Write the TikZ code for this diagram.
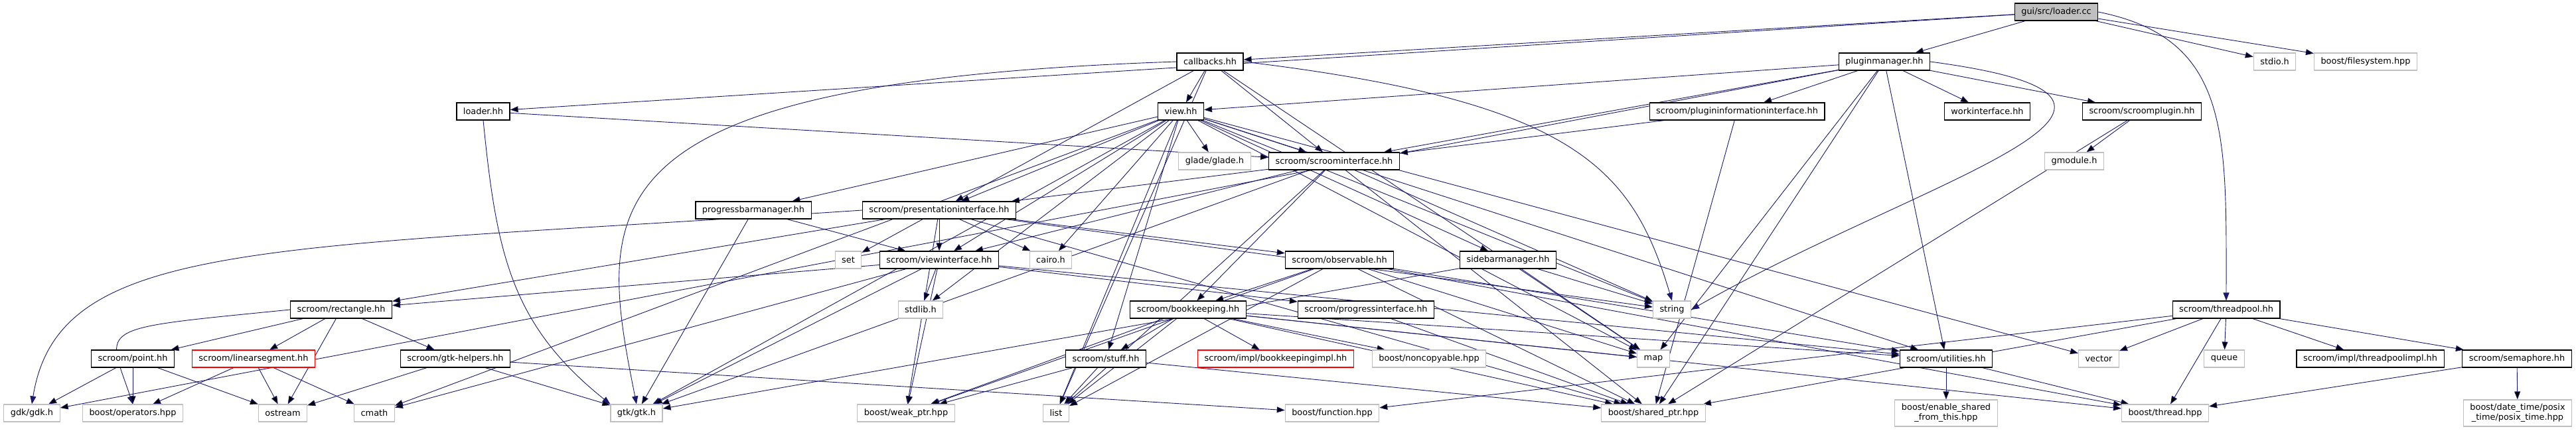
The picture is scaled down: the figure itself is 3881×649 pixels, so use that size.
\documentclass[tikz,border=0pt]{standalone}
\usepackage{fontspec}
\newfontfamily\dxfont{DejaVu Sans}
\usetikzlibrary{arrows.meta,backgrounds}
\definecolor{edgeblue}{HTML}{191970}
\definecolor{extgray} {HTML}{BFBFBF}
\definecolor{rootfill}{HTML}{BFBFBF}
\definecolor{cutred}  {HTML}{FF0000}
\begin{document}
\begin{tikzpicture}[x=1pt, y=-1pt,
  every node/.style={font=\dxfont\fontsize{12.9}{15}\selectfont, inner xsep=10pt, inner ysep=0pt,
                     minimum height=26pt, fill=white},
  hdr/.style={rectangle, draw=black, line width=1.1pt},
  ext/.style={rectangle, draw=extgray, line width=1.1pt},
  cut/.style={rectangle, draw=cutred, line width=1.1pt},
  root/.style={rectangle, draw=black, fill=rootfill, line width=1.1pt},
  dep/.style={draw=edgeblue, line width=0.9pt, -{Triangle[length=12pt,width=9pt]}}
]
\useasboundingbox (0,0) rectangle (3881,649);
% rows, top to bottom
\node[root] (lcc) at (3098,18) {gui/src/loader.cc};
\node[hdr] (cb)    at (1823,93)  {callbacks.hh};
\node[hdr] (pm)    at (2839,93)  {pluginmanager.hh};
\node[ext] (stdio) at (3427,93)  {stdio.h};
\node[ext] (fs)    at (3564,93)  {boost/filesystem.hpp};
\node[hdr] (lhh)   at (728,168)  {loader.hh};
\node[hdr] (view)  at (1779,168) {view.hh};
\node[hdr] (pii)   at (2617,168) {scroom/plugininformationinterface.hh};
\node[hdr] (work)  at (2994,168) {workinterface.hh};
\node[hdr] (splug) at (3227,168) {scroom/scroomplugin.hh};
\node[ext] (glade) at (1830,243) {glade/glade.h};
\node[hdr] (si)    at (2010,243) {scroom/scroominterface.hh};
\node[ext] (gmod)  at (3125,243) {gmodule.h};
\node[hdr] (pbm)   at (1135,317) {progressbarmanager.hh};
\node[hdr] (pi)    at (1415,317) {scroom/presentationinterface.hh};
\node[ext] (set)   at (1278,392) {set};
\node[hdr] (vi)    at (1415,392) {scroom/viewinterface.hh};
\node[ext] (cairo) at (1583,392) {cairo.h};
\node[hdr] (obs)   at (2018,392) {scroom/observable.hh};
\node[hdr] (sbm)   at (2272,392) {sidebarmanager.hh};
\node[hdr] (rect)  at (514,467)  {scroom/rectangle.hh};
\node[ext] (stdlib) at (1387,467) {stdlib.h};
\node[hdr] (bk)    at (1790,467) {scroom/bookkeeping.hh};
\node[hdr] (prog)  at (2058,467) {scroom/progressinterface.hh};
\node[ext] (str)   at (2519,467) {string};
\node[hdr] (tp)    at (3354,467) {scroom/threadpool.hh};
\node[hdr] (point) at (200,541)  {scroom/point.hh};
\node[cut] (linseg) at (382,541) {scroom/linearsegment.hh};
\node[hdr] (gtkh)  at (686,541)  {scroom/gtk-helpers.hh};
\node[hdr] (stuff) at (1666,541) {scroom/stuff.hh};
\node[cut] (bkimpl) at (1922,541) {scroom/impl/bookkeepingimpl.hh};
\node[ext] (noncopy) at (2153,541) {boost/noncopyable.hpp};
\node[ext] (map)   at (2491,541) {map};
\node[hdr] (util)  at (2932,541) {scroom/utilities.hh};
\node[ext] (vector) at (3162,541) {vector};
\node[ext] (queue) at (3351,541) {queue};
\node[hdr] (tpimpl) at (3571,541) {scroom/impl/threadpoolimpl.hh};
\node[hdr] (sema)  at (3792,541) {scroom/semaphore.hh};
\node[ext] (gdk)   at (48,623)   {gdk/gdk.h};
\node[ext] (ops)   at (200,623)  {boost/operators.hpp};
\node[ext] (ostream) at (426,623) {ostream};
\node[ext] (cmath) at (564,623)  {cmath};
\node[ext] (gtk)   at (959,623)  {gtk/gtk.h};
\node[ext] (weak)  at (1365,623) {boost/weak\_ptr.hpp};
\node[ext] (list)  at (1591,623) {list};
\node[ext] (func)  at (2007,623) {boost/function.hpp};
\node[ext] (sp)    at (2491,623) {boost/shared\_ptr.hpp};
\node[ext, align=center, minimum height=40pt] (esft) at (2932,623) {boost/enable\_shared\\\_from\_this.hpp};
\node[ext] (thread) at (3262,623) {boost/thread.hpp};
\node[ext, align=center, minimum height=40pt] (posix) at (3793,623) {boost/date\_time/posix\\\_time/posix\_time.hpp};
% include edges
\begin{scope}[on background layer]
\draw[dep] (lcc) edge (lhh) edge (cb) edge (pm) edge (stdio) edge (fs);
\draw[dep] (lcc.east) .. controls +(200,40) and +(0,-250) .. (tp.north);
\draw[dep] (lhh) edge (si);
\draw[dep] (lhh.south) .. controls +(20,200) and +(-150,-120) .. (gtk.north west);
\draw[dep] (cb) edge (view) edge (si) edge (pi) edge (list) edge (map);
\draw[dep] (cb.west) .. controls +(-900,30) and +(-60,-300) .. (gtk.north);
\draw[dep] (cb.east) .. controls +(500,60) and +(-60,-200) .. (str.north);
\draw[dep] (pm) edge (view) edge (si) edge (pii) edge (work) edge (splug) edge (util)
  edge (map) edge (sp) edge (gdk);
\draw[dep] (pm.east) .. controls +(450,60) and +(350,-200) .. (str.east);
\draw[dep] (pii) edge (si) edge (sp);
\draw[dep] (splug) edge (gmod) edge (sp);
\draw[dep] (view) edge (si) edge (glade) edge (cmath) edge (gtk) edge (list) edge (pbm)
  edge (pi) edge (vi) edge (stdlib) edge (stuff) edge (cairo) edge (sbm) edge (str)
  edge (map) edge (util) edge (vector);
\draw[dep] (pbm) edge (gtk) edge (vi);
\draw[dep] (si) edge (gtk) edge (pi) edge (vi) edge (bk) edge (list) edge (str) edge (sp);
\draw[dep] (pi) edge (rect) edge (set) edge (vi) edge (cairo)
  edge (obs) edge (weak) edge (sp) edge (str);
\draw[dep] (pi.west) .. controls +(-900,60) and +(40,-250) .. (gdk.north);
\draw[dep] (vi) edge (rect) edge (cmath) edge (gtk) edge (weak) edge (stdlib) edge (prog)
  edge (util);
\draw[dep] (obs) edge (bk) edge (list) edge (weak) edge (map) edge (sp) edge (util)
  edge (thread);
\draw[dep] (sbm) edge (gtk) edge (str) edge (map);
\draw[dep] (bk) edge (stuff) edge (bkimpl) edge (noncopy) edge (list) edge (map) edge (sp)
  edge (weak) edge (util) edge (thread);
\draw[dep] (prog) edge (sp);
\draw[dep] (stuff) edge (list) edge (sp) edge (weak);
\draw[dep] (util) edge (esft) edge (thread);
\draw[dep] (tp) edge (vector) edge (queue) edge (thread) edge (tpimpl) edge (sema)
  edge (sp) edge (func);
\draw[dep] (sema) edge (thread) edge (posix);
\draw[dep] (rect) edge (point) edge (linseg) edge (ostream) edge (gtkh);
\draw[dep] (rect.west) .. controls +(-300,30) and +(-40,-120) .. (ops.north);
\draw[dep] (point) edge (gdk) edge (ops) edge (ostream);
\draw[dep] (linseg) edge (ops) edge (ostream) edge (cmath);
\draw[dep] (gtkh) edge (ostream) edge (gtk) edge (func);
\end{scope}
\end{tikzpicture}
\end{document}
